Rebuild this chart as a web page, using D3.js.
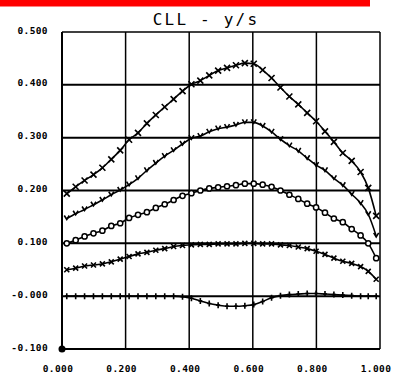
<!DOCTYPE html>
<html><head><meta charset="utf-8">
<script src="https://cdn.jsdelivr.net/npm/d3@7"></script>
<style>
html,body{margin:0;padding:0;background:#fff;}
svg{display:block;}
</style></head>
<body><svg id="c" width="394" height="374"></svg>
<script>
const titleText = "CLL - y/s";
const yTicks = [0.5, 0.4, 0.3, 0.2, 0.1, 0.0, -0.1];
const yTickLabels = ["0.500", "0.400", "0.300", "0.200", "0.100", "-0.000", "-0.100"];
const xTicks = [0.0, 0.2, 0.4, 0.6, 0.8, 1.0];
const xTickLabels = ["0.000", "0.200", "0.400", "0.600", "0.800", "1.000"];

const xs = [0.015,0.043,0.071,0.099,0.127,0.155,0.183,0.211,0.239,0.267,0.295,0.323,0.351,0.379,0.407,0.435,0.463,0.491,0.519,0.547,0.575,0.603,0.631,0.659,0.687,0.715,0.743,0.771,0.799,0.827,0.855,0.883,0.911,0.939,0.963,0.988];

const seriesX1 = [0.194,0.207,0.219,0.230,0.243,0.259,0.276,0.296,0.309,0.327,0.343,0.358,0.373,0.388,0.401,0.408,0.418,0.427,0.432,0.437,0.441,0.440,0.428,0.413,0.395,0.378,0.363,0.347,0.331,0.312,0.292,0.271,0.256,0.235,0.205,0.152];
const seriesV = [0.147,0.156,0.164,0.173,0.182,0.192,0.201,0.211,0.223,0.238,0.252,0.265,0.276,0.288,0.299,0.303,0.311,0.317,0.320,0.324,0.329,0.329,0.322,0.311,0.297,0.285,0.275,0.261,0.248,0.238,0.223,0.210,0.193,0.176,0.155,0.114];
const seriesO = [0.100,0.106,0.113,0.119,0.124,0.133,0.138,0.148,0.154,0.159,0.167,0.174,0.182,0.190,0.195,0.200,0.204,0.206,0.208,0.210,0.213,0.213,0.211,0.207,0.200,0.192,0.184,0.175,0.168,0.158,0.147,0.140,0.127,0.115,0.100,0.072];
const seriesX2 = [0.050,0.053,0.057,0.059,0.061,0.065,0.070,0.075,0.080,0.083,0.087,0.090,0.094,0.096,0.097,0.098,0.098,0.099,0.099,0.099,0.100,0.100,0.099,0.099,0.097,0.096,0.093,0.090,0.085,0.079,0.072,0.066,0.062,0.056,0.047,0.032];
const seriesP = [0.000,0.000,0.000,0.000,0.000,0.000,0.000,0.000,0.000,0.000,0.000,0.000,0.000,-0.001,-0.004,-0.009,-0.014,-0.017,-0.019,-0.019,-0.018,-0.016,-0.010,-0.003,0.001,0.003,0.004,0.005,0.005,0.004,0.003,0.002,0.001,0.000,0.000,0.000];
const originPoint = [0.0, -0.1];

const svg = d3.select("#c");
const x = d3.scaleLinear().domain([0, 1]).range([62, 380]);
const y = d3.scaleLinear().domain([-0.1, 0.5]).range([349, 32]);

// red bar
svg.append("rect").attr("x", 0).attr("y", 0).attr("width", 370).attr("height", 6.5).attr("fill", "#ff0000");

// title
svg.append("text").attr("x", 206).attr("y", 25).attr("text-anchor", "middle")
  .attr("font-family", "DejaVu Sans Mono").attr("font-size", 16).attr("letter-spacing", 2.2)
  .attr("fill", "#000").text(titleText);

const g = svg.append("g");
// horizontal grid
g.selectAll(".hg").data(yTicks).join("line")
  .attr("x1", x(0)).attr("x2", x(1)).attr("y1", d => y(d)).attr("y2", d => y(d))
  .attr("stroke", "#000").attr("stroke-width", (d, i) => (i === 0 ? 1.4 : 2));
// vertical grid
g.selectAll(".vg").data(xTicks).join("line")
  .attr("x1", d => x(d)).attr("x2", d => x(d)).attr("y1", y(0.5)).attr("y2", y(-0.1))
  .attr("stroke", "#000").attr("stroke-width", (d, i) => (i === 0 ? 2 : 1.5));

// tick labels
svg.selectAll(".yl").data(yTicks).join("text")
  .attr("x", 48).attr("y", d => y(d) + 1.5).attr("text-anchor", "end")
  .attr("font-family", "DejaVu Sans Mono").attr("font-weight", "bold").attr("font-size", 9.5)
  .attr("letter-spacing", 0.4).attr("fill", "#000")
  .text((d, i) => yTickLabels[i]);
svg.selectAll(".xl").data(xTicks).join("text")
  .attr("x", d => x(d) - 4).attr("y", 372).attr("text-anchor", "middle")
  .attr("font-family", "DejaVu Sans Mono").attr("font-weight", "bold").attr("font-size", 9.5)
  .attr("letter-spacing", 0.4).attr("fill", "#000")
  .text((d, i) => xTickLabels[i]);

const line = d3.line().x(d => x(d[0])).y(d => y(d[1])).curve(d3.curveMonotoneX);
const allSeries = [
  {vals: seriesX1, marker: "X"},
  {vals: seriesV, marker: "v"},
  {vals: seriesO, marker: "o"},
  {vals: seriesX2, marker: "x"},
  {vals: seriesP, marker: "+"}
];
allSeries.forEach(s => {
  const pts = xs.map((xv, i) => [xv, s.vals[i]]);
  g.append("path").attr("d", line(pts)).attr("fill", "none").attr("stroke", "#000").attr("stroke-width", 1.6);
  const mg = g.append("g");
  pts.forEach(p => {
    const px = x(p[0]), py = y(p[1]);
    let d;
    if (s.marker === "X") d = `M${px-3},${py-3}L${px+3},${py+3}M${px+3},${py-3}L${px-3},${py+3}`;
    else if (s.marker === "x") d = `M${px-2.5},${py-2.5}L${px+2.5},${py+2.5}M${px+2.5},${py-2.5}L${px-2.5},${py+2.5}`;
    else if (s.marker === "v") d = `M${px-2.5},${py-3}L${px},${py+1}L${px+2.5},${py-3}`;
    else if (s.marker === "+") d = `M${px},${py-3}L${px},${py+3}M${px-2},${py}L${px+2},${py}`;
    if (s.marker === "o") {
      mg.append("circle").attr("cx", px).attr("cy", py).attr("r", 2.6)
        .attr("fill", "#fff").attr("stroke", "#000").attr("stroke-width", 1.5);
    } else {
      mg.append("path").attr("d", d).attr("stroke", "#000").attr("stroke-width", 1.6).attr("fill", "none");
    }
  });
});

// origin marker
svg.append("circle").attr("cx", x(originPoint[0])).attr("cy", y(originPoint[1])).attr("r", 3.5).attr("fill", "#000");
</script>
</body></html>
